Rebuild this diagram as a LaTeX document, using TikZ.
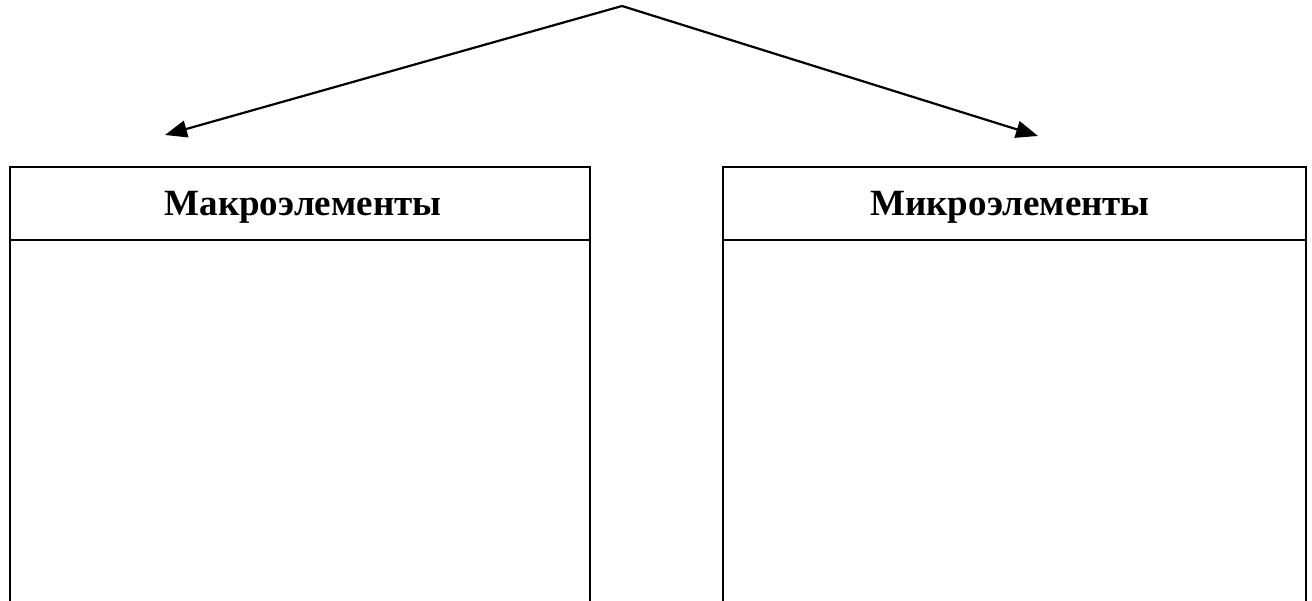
\documentclass[tikz,border=0pt]{standalone}
\usepackage{fontspec}
\setmainfont{Liberation Serif}
\usetikzlibrary{arrows.meta}
\begin{document}
\begin{tikzpicture}[x=1pt,y=-1pt,
  line/.style={line width=2.4pt},
  arr/.style={line width=2.2pt,-{Triangle[length=22pt,width=17pt]}},
  head/.style={font=\fontsize{37}{42}\selectfont\bfseries, inner sep=0pt}]
\useasboundingbox (0,0) rectangle (1312,601);
\coordinate (apex) at (622,6);
\coordinate (ltip) at (165,135);
\coordinate (rtip) at (1038,136);
\draw[arr] (apex) -- (ltip);
\draw[arr] (apex) -- (rtip);
% left box
\draw[line] (10,601) -- (10,167) -- (590,167) -- (590,601);
\draw[line] (10,240) -- (590,240);
\node[head] (macro) at (303,207) {Макроэлементы};
% right box
\draw[line] (723,601) -- (723,167) -- (1306,167) -- (1306,601);
\draw[line] (723,240) -- (1306,240);
\node[head] (micro) at (1010,207) {Микроэлементы};
\end{tikzpicture}
\end{document}
